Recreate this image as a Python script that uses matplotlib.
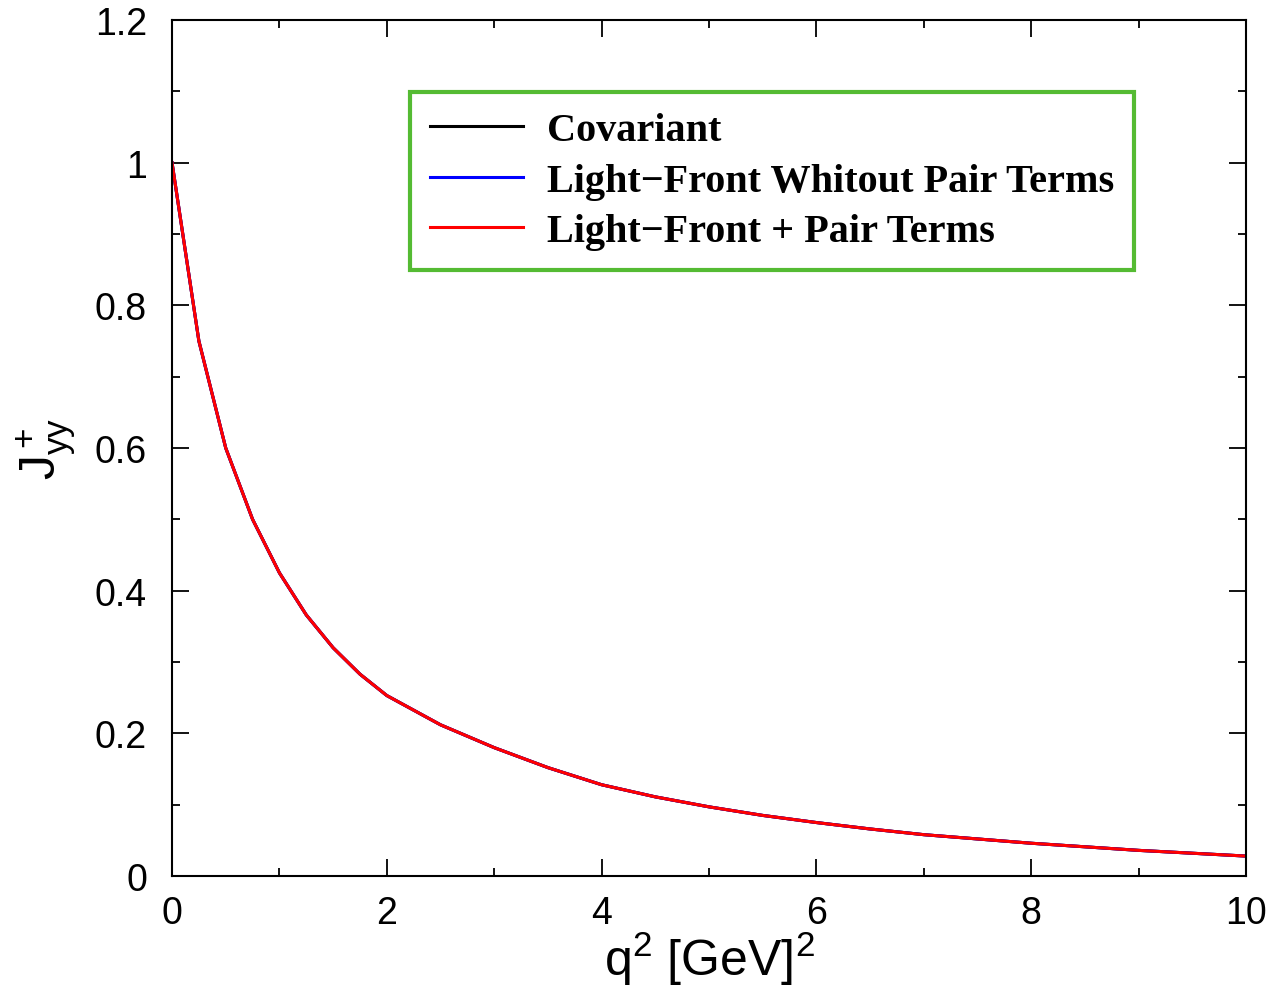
import numpy as np
import matplotlib.pyplot as plt
from matplotlib.ticker import MultipleLocator

# q^2 [GeV^2] and J+_yy (all three curves coincide)
q2 = [0.0, 0.25, 0.5, 0.75, 1.0, 1.25, 1.5, 1.75, 2.0, 2.5, 3.0, 3.5, 4.0,
      4.5, 5.0, 5.5, 6.0, 6.5, 7.0, 7.5, 8.0, 8.5, 9.0, 9.5, 10.0]
jyy_cov = [1.0, 0.75, 0.60, 0.50, 0.425, 0.366, 0.32, 0.283, 0.253, 0.212,
           0.180, 0.152, 0.128, 0.111, 0.097, 0.085, 0.075, 0.066, 0.058,
           0.052, 0.046, 0.041, 0.036, 0.032, 0.028]
jyy_lf = list(jyy_cov)
jyy_lf_pair = list(jyy_cov)

labels = ['Covariant', 'Light\u2212Front Whitout Pair Terms',
          'Light\u2212Front + Pair Terms']
xticks = [0, 2, 4, 6, 8, 10]
xticklabels = ['0', '2', '4', '6', '8', '10']
yticks = [0, 0.2, 0.4, 0.6, 0.8, 1.0, 1.2]
yticklabels = ['0', '0.2', '0.4', '0.6', '0.8', '1', '1.2']

plt.rcParams['font.family'] = ['Liberation Sans', 'DejaVu Sans']
plt.rcParams['mathtext.fontset'] = 'custom'
plt.rcParams['mathtext.rm'] = 'Liberation Sans'
plt.rcParams['mathtext.it'] = 'Liberation Sans'

fig = plt.figure(figsize=(12.81, 9.87), dpi=100)
ax = fig.add_axes([0.1343, 0.1114, 0.8384, 0.8673])

ax.plot(q2, jyy_cov, color='black', lw=2.2, label=labels[0])
ax.plot(q2, jyy_lf, color='blue', lw=2.2, label=labels[1])
ax.plot(q2, jyy_lf_pair, color='red', lw=2.2, label=labels[2])

ax.set_xlim(0, 10)
ax.set_ylim(0, 1.2)
ax.set_xticks(xticks, xticklabels)
ax.set_yticks(yticks, yticklabels)
ax.xaxis.set_minor_locator(MultipleLocator(1))
ax.yaxis.set_minor_locator(MultipleLocator(0.1))
ax.tick_params(which='both', direction='in', top=True, right=True,
               width=1.3, labelsize=27)
ax.tick_params(axis='y', pad=18)
ax.tick_params(axis='x', pad=14)
ax.tick_params(which='major', length=12)
ax.tick_params(which='minor', length=6)
for s in ax.spines.values():
    s.set_linewidth(1.5)

ax.set_xlabel(r'$\mathregular{q^2\ [GeV]^2}$', fontsize=36, labelpad=-2)
ax.set_ylabel(r'$\mathregular{J^+_{yy}}$', fontsize=36, labelpad=12)

leg = ax.legend(loc='upper left', bbox_to_anchor=(0.2216, 0.9159),
                prop={'family': 'Liberation Serif', 'weight': 'bold', 'size': 29},
                handlelength=2.3, handletextpad=0.6, labelspacing=0.33,
                borderpad=0.5, borderaxespad=0, fancybox=False, framealpha=1)
leg.get_frame().set_edgecolor('#55bb33')
leg.get_frame().set_linewidth(3)

fig.savefig('out.png', dpi=100)
